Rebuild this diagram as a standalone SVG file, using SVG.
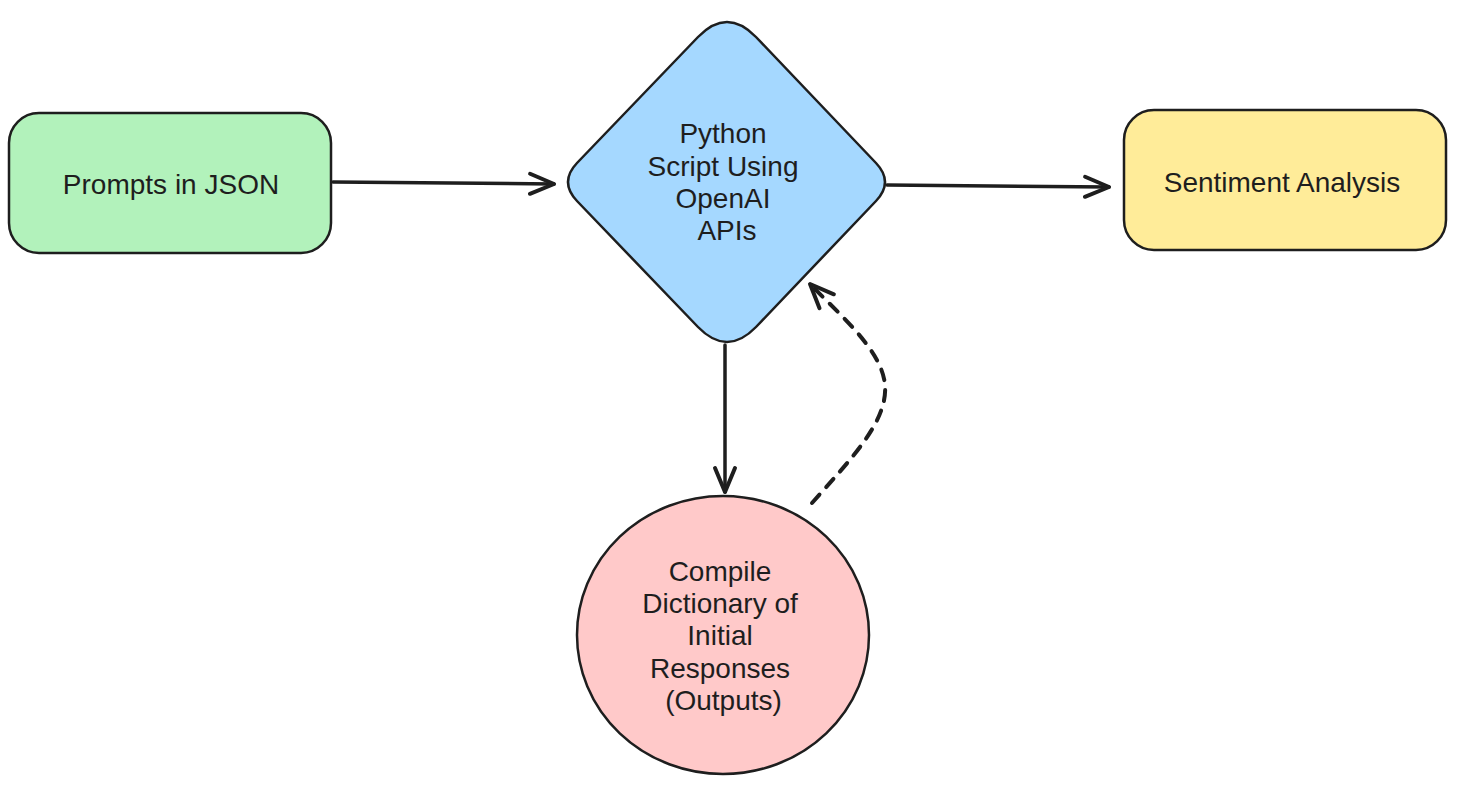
<svg xmlns="http://www.w3.org/2000/svg" width="1457" height="785" viewBox="0 0 1457 785">
<style>
.shape{stroke:#1e1e1e;stroke-width:2.5;}
.lbl{font-family:"Liberation Sans",Arial,sans-serif;font-size:28px;fill:#1e1e1e;text-anchor:middle;}
.conn{fill:none;stroke:#1e1e1e;stroke-width:3.5;stroke-linecap:round;}
.dash{stroke-dasharray:11 10;stroke-width:4;}
</style>
<defs>
<marker id="arr" markerUnits="userSpaceOnUse" viewBox="-30 -15 36 30" refX="0" refY="0" markerWidth="36" markerHeight="30" orient="auto">
<path d="M-24,-10 L0,0 L-24,10" fill="none" stroke="#1e1e1e" stroke-width="4" stroke-linecap="round" stroke-linejoin="round"/>
</marker>
</defs>
<rect width="1457" height="785" fill="#ffffff"/>
<g id="connectors">
<path class="conn" d="M333,182 L554,184" marker-end="url(#arr)"/>
<path class="conn" d="M887,185 L1109,187" marker-end="url(#arr)"/>
<path class="conn" d="M725,345 L725,492" marker-end="url(#arr)"/>
<path class="conn dash" d="M812,503 C850,460 888,422 885,385 C882,350 840,315 810,284" marker-end="url(#arr)"/>
</g>
<g id="node-prompts">
<rect class="shape" x="9" y="113" width="322" height="140" rx="30" fill="#b2f2bb"/>
<text class="lbl" x="171" y="194">Prompts in JSON</text>
</g>
<g id="node-python">
<path class="shape" fill="#a5d8ff" d="M756,37 L876,163 Q894,182 876,201 L756,327 Q727,357 698,327 L577,201 Q559,182 577,163 L698,37 Q727,7 756,37 Z"/>
<text class="lbl" x="723" y="143">Python</text>
<text class="lbl" x="723" y="176">Script Using</text>
<text class="lbl" x="723" y="208">OpenAI</text>
<text class="lbl" x="727" y="240">APIs</text>
</g>
<g id="node-sentiment">
<rect class="shape" x="1124" y="110" width="322" height="140" rx="30" fill="#ffec99"/>
<text class="lbl" x="1282" y="192">Sentiment Analysis</text>
</g>
<g id="node-compile">
<ellipse class="shape" cx="723" cy="635" rx="146" ry="139" fill="#ffc9c9" stroke-width="3.5"/>
<text class="lbl" x="720" y="581">Compile</text>
<text class="lbl" x="720" y="613">Dictionary of</text>
<text class="lbl" x="720" y="645">Initial</text>
<text class="lbl" x="720" y="678">Responses</text>
<text class="lbl" x="723.5" y="710">(Outputs)</text>
</g>
</svg>
